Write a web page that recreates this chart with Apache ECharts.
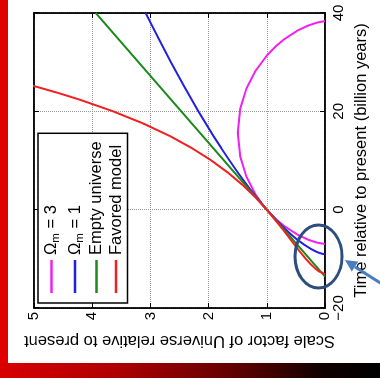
<!DOCTYPE html>
<html>
<head>
<meta charset="utf-8">
<script src="https://cdn.jsdelivr.net/npm/echarts@6/dist/echarts.min.js"></script>
<style>
html, body { margin: 0; padding: 0; background: #fff; width: 380px; height: 378px; overflow: hidden; position: relative; }
#edge { position: absolute; left: 0; top: 0; width: 8px; height: 364px; background: #e00000; z-index: 2; }
#band { position: absolute; left: 0; top: 363px; width: 380px; height: 15px; z-index: 2;
        background: linear-gradient(to right, #d80000 0%, #b00000 30%, #600000 62%, #100000 85%, #000 100%); }
/* the figure is turned a quarter turn to the left, like the slide */
#chart { position: absolute; left: 0; top: 0; width: 378px; height: 380px;
         transform-origin: 0 0; transform: translateY(378px) rotate(-90deg); }
</style>
</head>
<body>
<div id="chart"></div>
<div id="edge"></div>
<div id="band"></div>
<script>
// time relative to present (billion years) and scale factor
var timeOm3  = [-6.98, -6.95, -6.72, -6.14, -5.05, -3.36, -1.87, 0, 0.88, 3.05, 6.73, 10.79, 15.67, 20.55, 24.61, 28.29, 31.34, 33.21, 34.70, 36.39, 37.48, 38.06, 38.29, 38.32];
var scaleOm3 = [0, 0.034, 0.131, 0.284, 0.478, 0.697, 0.847, 1, 1.062, 1.191, 1.351, 1.457, 1.5, 1.457, 1.351, 1.191, 1, 0.847, 0.697, 0.478, 0.284, 0.131, 0.034, 0];

var timeOm1  = [-9.07, -9.0, -8.9, -8.75, -8.5, -8, -7, -6, -5, -4, -3, -2, -1, 0, 2.5, 5, 7.5, 10, 12.5, 15, 20, 25, 30, 35, 40];
var scaleOm1 = [0, 0.039, 0.071, 0.108, 0.158, 0.241, 0.373, 0.486, 0.586, 0.679, 0.765, 0.847, 0.925, 1, 1.176, 1.34, 1.495, 1.641, 1.782, 1.917, 2.174, 2.416, 2.647, 2.869, 3.082];

var timeEmpty  = [-13.6, 0, 20, 40];
var scaleEmpty = [0, 1, 2.47, 3.94];

var timeFav  = [-13.11, -13.05, -13, -12.5, -12, -11, -10, -8, -6, -4, -2, 0, 2.5, 5, 7.5, 10, 12.5, 15, 17.5, 20, 22.5, 23.75, 25, 25.5];
var scaleFav = [0, 0.024, 0.035, 0.111, 0.165, 0.254, 0.331, 0.468, 0.597, 0.726, 0.862, 1, 1.194, 1.413, 1.664, 1.951, 2.284, 2.669, 3.118, 3.639, 4.247, 4.589, 4.956, 5.11];

var names  = ['Ωm = 3', 'Ωm = 1', 'Empty universe', 'Favored model'];
var colors = ['#f020f0', '#2020e0', '#1a8a1a', '#f02020'];

var timeTicks  = { min: -20, max: 40, interval: 20 };
var scaleTicks = { min: 0, max: 5, interval: 1 };

function pairs(xs, ys) {
	var out = [];
	for (var i = 0; i < xs.length; i++) out.push([xs[i], ys[i]]);
	return out;
}

var font = 'Liberation Sans, Arial, Helvetica, sans-serif';
var chart = echarts.init(document.getElementById('chart'), null, { renderer: 'canvas' });

function minus(v) { return String(v).replace('-', '\u2212'); }

var tickStyle = { show: true, inside: true, length: 5, lineStyle: { color: '#000', width: 1 } };
var lineAxis  = { show: true, onZero: false, lineStyle: { color: '#000', width: 1.5 } };
var dots      = { show: true, lineStyle: { color: '#9a9a9a', type: 'dotted', width: 1 } };

var option = {
	animation: false,
	backgroundColor: 'transparent',
	grid: { left: 70, right: 13, top: 34, bottom: 55, show: true, borderColor: '#000', borderWidth: 1.5 },
	legend: {
		orient: 'vertical',
		left: 75,
		top: 38,
		data: names,
		icon: 'rect',
		itemWidth: 33,
		itemHeight: 2.5,
		itemGap: 2.5,
		padding: [3, 8, 3, 10],
		borderColor: '#000',
		borderWidth: 1.5,
		backgroundColor: '#fff',
		formatter: function (name) {
			var m = name.match(/^Ωm = (\d)$/);
			if (m) return '{t|Ω}{s|m}{t| = ' + m[1] + '}';
			return '{t|' + name + '}';
		},
		textStyle: {
			color: '#000', fontFamily: font, fontSize: 16.5,
			rich: {
				t: { fontFamily: font, fontSize: 16.5, lineHeight: 20, color: '#000' },
				s: { fontFamily: font, fontSize: 11.5, lineHeight: 11, padding: [9, 0, 0, 0], color: '#000' }
			}
		}
	},
	xAxis: [
		{
			type: 'value', position: 'bottom',
			min: timeTicks.min, max: timeTicks.max, interval: timeTicks.interval,
			axisLine: lineAxis, axisTick: tickStyle, splitLine: dots,
			axisLabel: { color: '#000', fontFamily: font, fontSize: 15, margin: 6, formatter: minus },
			name: 'Time relative to present (billion years)',
			nameLocation: 'middle', nameGap: 28,
			nameTextStyle: { color: '#000', fontFamily: font, fontSize: 16.5 }
		},
		{
			type: 'value', position: 'top',
			min: timeTicks.min, max: timeTicks.max, interval: timeTicks.interval,
			axisLine: lineAxis, axisTick: tickStyle, splitLine: { show: false },
			axisLabel: { show: false }
		}
	],
	yAxis: [
		{
			type: 'value', position: 'left',
			min: scaleTicks.min, max: scaleTicks.max, interval: scaleTicks.interval,
			axisLine: lineAxis, axisTick: tickStyle, splitLine: dots,
			axisLabel: { color: '#000', fontFamily: font, fontSize: 15, margin: 4 },
			name: 'Scale factor of Universe relative to present',
			nameLocation: 'middle', nameGap: 24, nameRotate: 90,
			nameTextStyle: { color: '#000', fontFamily: font, fontSize: 16.5 }
		},
		{
			type: 'value', position: 'right',
			min: scaleTicks.min, max: scaleTicks.max, interval: scaleTicks.interval,
			axisLine: lineAxis, axisTick: tickStyle, splitLine: { show: false },
			axisLabel: { show: false }
		}
	],
	series: [
		{ name: names[0], type: 'line', symbol: 'none', data: pairs(timeOm3, scaleOm3) },
		{ name: names[1], type: 'line', symbol: 'none', data: pairs(timeOm1, scaleOm1) },
		{ name: names[2], type: 'line', symbol: 'none', data: pairs(timeEmpty, scaleEmpty) },
		{ name: names[3], type: 'line', symbol: 'none', data: pairs(timeFav, scaleFav) }
	].map(function (s, i) {
		s.color = colors[i];
		s.lineStyle = { color: colors[i], width: 2 };
		s.clip = true;
		s.z = 3;
		return s;
	}),
	// hand-drawn slide annotation: ring around the early times and an arrow pointing at it
	graphic: [
		{ type: 'ellipse', shape: { cx: 121.5, cy: 318.5, rx: 31.5, ry: 23.5 },
		  style: { fill: 'none', stroke: '#2d4d7e', lineWidth: 3 }, z: 100 },
		{ type: 'line', shape: { x1: 94, y1: 382, x2: 111, y2: 355 },
		  style: { stroke: '#4a7dbf', lineWidth: 3 }, z: 100 },
		{ type: 'polygon', shape: { points: [[118, 345], [116.4, 358.3], [106.4, 351.7]] },
		  style: { fill: '#4a7dbf' }, z: 100 }
	]
};
chart.setOption(option);
</script>
</body>
</html>
